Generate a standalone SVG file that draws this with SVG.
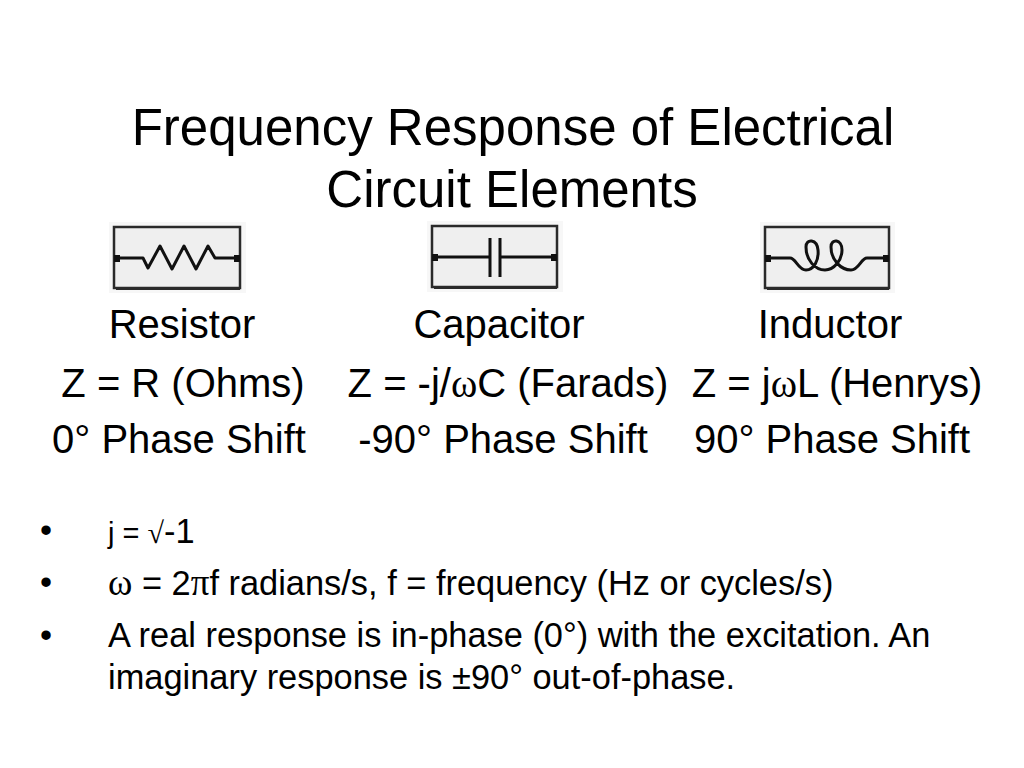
<svg xmlns="http://www.w3.org/2000/svg" width="1024" height="768" viewBox="0 0 1024 768">
<style>
text{font-family:"Liberation Sans",Arial,sans-serif;fill:#000}
.t{font-size:51px;text-anchor:middle}
.r{font-size:40px;text-anchor:middle}
.b{font-size:34.4px}
.sym{font-family:"Liberation Serif","Times New Roman",serif}
.box{fill:#efefef;stroke:#2a2a2a;stroke-width:2.5}
.halo{fill:#f7f7f7}
.w{fill:none;stroke:#111;stroke-width:3;stroke-linejoin:round}
.dot{fill:#111}
</style>
<rect width="1024" height="768" fill="#fff"/>
<g id="title">
<text class="t" x="513" y="145">Frequency Response of Electrical</text>
<text class="t" x="512" y="207">Circuit Elements</text>
</g>
<g id="resistor">
<rect class="halo" x="109" y="222" width="137" height="71"/>
<rect class="box" x="114" y="227" width="126" height="61"/>
<line x1="116" y1="289" x2="240" y2="289" stroke="#2a2a2a" stroke-width="2"/>
<path class="w" d="M114,258 H143 L148,268 L160,246 L172,269 L184,246 L196,269 L208,246 L215,258 H240"/>
<rect class="dot" x="114" y="255" width="6" height="7"/>
<rect class="dot" x="234" y="255" width="6" height="7"/>
<text class="r" x="182" y="338">Resistor</text>
<text class="r" x="183" y="397">Z = R (Ohms)</text>
<text class="r" x="179" y="453">0° Phase Shift</text>
</g>
<g id="capacitor">
<rect class="halo" x="427" y="221" width="136" height="71"/>
<rect class="box" x="432" y="226" width="125" height="61"/>
<line x1="434" y1="288" x2="557" y2="288" stroke="#2a2a2a" stroke-width="2"/>
<path class="w" d="M432,257 H490 M500,257 H557"/>
<path class="w" d="M490,238 V277 M500,238 V277"/>
<rect class="dot" x="432" y="254" width="6" height="7"/>
<rect class="dot" x="551" y="254" width="6" height="7"/>
<text class="r" x="499" y="338">Capacitor</text>
<text class="r" x="508" y="397">Z = -j/<tspan class="sym">ω</tspan>C (Farads)</text>
<text class="r" x="503" y="453">-90° Phase Shift</text>
</g>
<g id="inductor">
<rect class="halo" x="760" y="222" width="135" height="71"/>
<rect class="box" x="765" y="227" width="124" height="61"/>
<line x1="767" y1="289" x2="889" y2="289" stroke="#2a2a2a" stroke-width="2"/>
<path class="w" d="M765,258 H790 C796,258 798,270 806,270 C814,270 819,260 818,250 C817,239 806,238 806,247 C806,260 815,270 825,270 C834,270 842,260 842,250 C842,239 831,238 831,247 C831,260 841,270 851,270 C859,270 861,258 867,258 H889"/>
<rect class="dot" x="765" y="255" width="6" height="7"/>
<rect class="dot" x="883" y="255" width="6" height="7"/>
<text class="r" x="830" y="338">Inductor</text>
<text class="r" x="837" y="397">Z = j<tspan class="sym">ω</tspan>L (Henrys)</text>
<text class="r" x="832" y="453">90° Phase Shift</text>
</g>
<g id="bullets">
<text class="b" x="40" y="542" font-size="28px">•</text>
<text class="b" x="108" y="543"><tspan font-size="29px">j = </tspan><tspan class="sym" font-size="30px">√</tspan>-1</text>
<text class="b" x="40" y="594">•</text>
<text class="b" x="108" y="595"><tspan class="sym" font-size="37px">ω</tspan> = 2<tspan class="sym" font-size="37px">π</tspan>f radians/s, f = frequency (Hz or cycles/s)</text>
<text class="b" x="40" y="647">•</text>
<text class="b" x="108" y="647">A real response is in-phase (0°) with the excitation. An</text>
<text class="b" x="108" y="689">imaginary response is ±90° out-of-phase.</text>
</g>
</svg>
